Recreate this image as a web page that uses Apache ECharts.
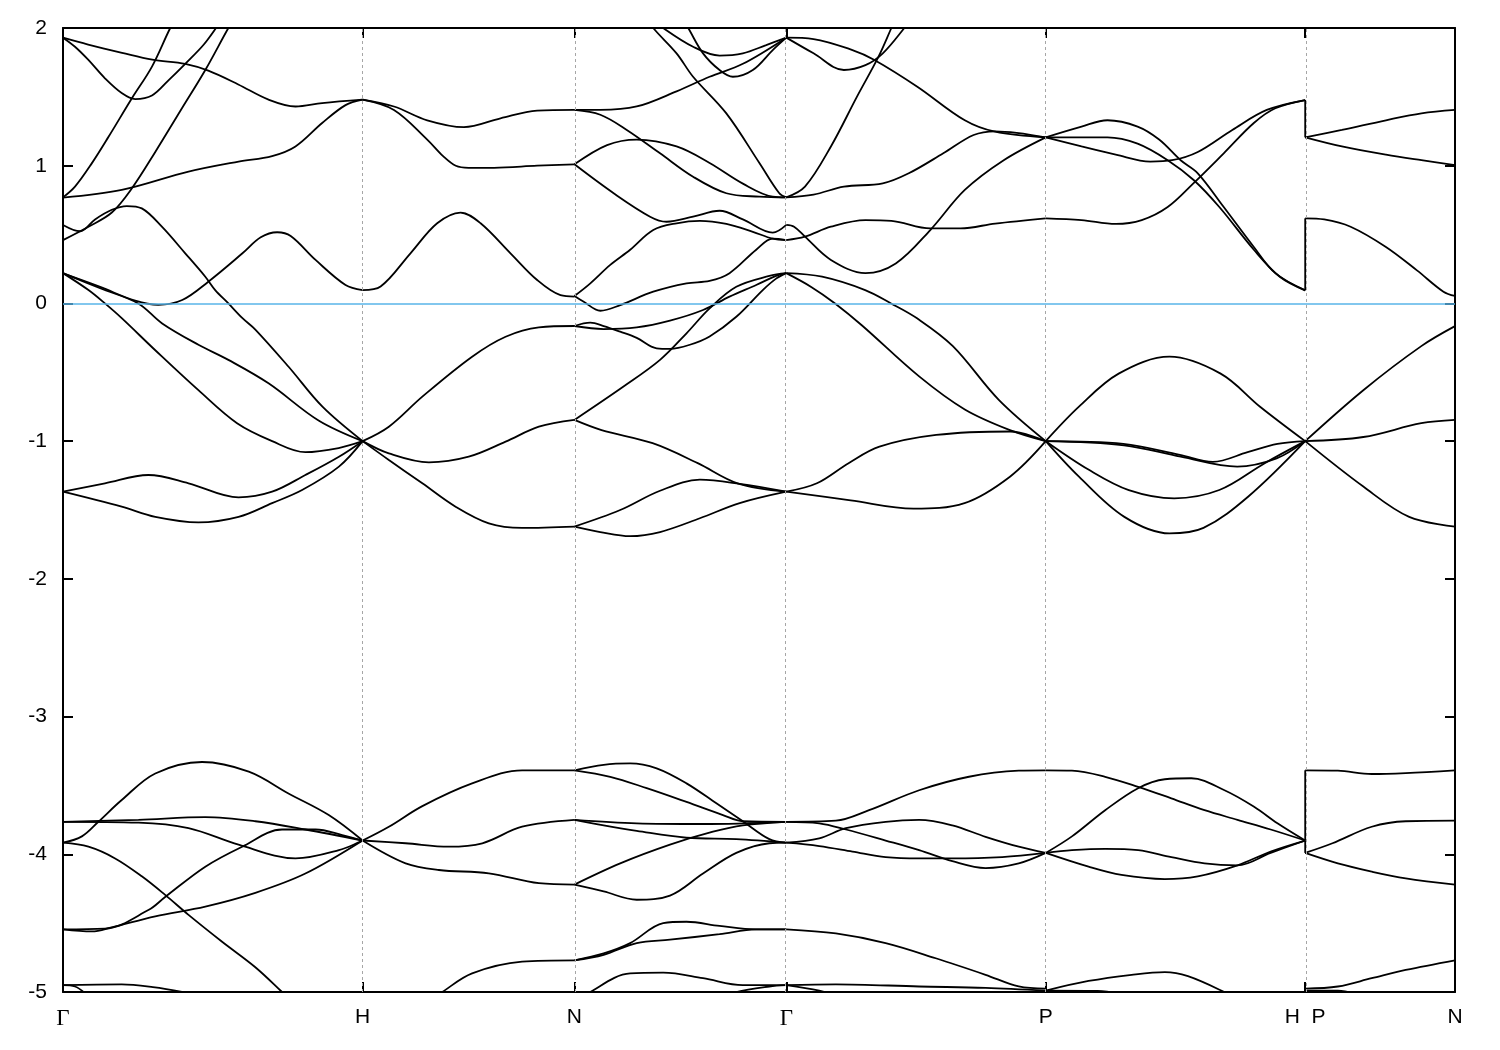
<!DOCTYPE html>
<html><head><meta charset="utf-8">
<script src="https://cdn.jsdelivr.net/npm/echarts@6/dist/echarts.min.js"></script>
<style>html,body{margin:0;padding:0;background:#fff}#c{width:1500px;height:1050px}</style>
</head><body><div id="c"></div>
<script>
// path segment lengths (2pi/a units): G-H, H-N, N-G, G-P, P-H, P-N
const kSegLen = [1, 0.7071, 0.7071, 0.8660, 0.8660, 0.5];
const kLabels = ['Γ', 'H', 'N', 'Γ', 'P', 'H  P', 'N'];
const yTicks = [-5, -4, -3, -2, -1, 0, 1, 2];

// each band: [fraction along segment, energy (eV)]
const bandsGH = [
 [[0,1.93],[0.084,1.88],[0.197,1.82],[0.298,1.77],[0.408,1.74],[0.485,1.69],[0.585,1.59],[0.686,1.48],[0.776,1.43],[0.865,1.455],[1,1.48]],
 [[0,1.93],[0.04,1.864],[0.084,1.77],[0.14,1.635],[0.197,1.526],[0.241,1.484],[0.297,1.51],[0.352,1.62],[0.408,1.74],[0.47,1.88],[0.52,2.03]],
 [[0,0.77],[0.04,0.848],[0.096,1.017],[0.152,1.21],[0.23,1.49],[0.297,1.72],[0.358,2.0],[0.378,2.07]],
 [[0,0.46],[0.085,0.557],[0.163,0.66],[0.23,0.836],[0.308,1.10],[0.397,1.417],[0.475,1.695],[0.552,2.0],[0.575,2.08]],
 [[0,0.57],[0.057,0.524],[0.107,0.61],[0.163,0.68],[0.213,0.707],[0.263,0.69],[0.33,0.557],[0.408,0.364],[0.475,0.194],[0.508,0.097],[0.552,0.0],[0.599,-0.107],[0.642,-0.19],[0.753,-0.46],[0.866,-0.75],[1,-1.0]],
 [[0,0.218],[0.124,0.12],[0.241,0.02],[0.318,-0.01],[0.398,0.025],[0.485,0.158],[0.599,0.364],[0.66,0.48],[0.715,0.517],[0.76,0.49],[0.843,0.316],[0.943,0.134],[1,0.097]],
 [[0,0.22],[0.085,0.097],[0.14,0.0],[0.196,-0.107],[0.308,-0.34],[0.452,-0.63],[0.581,-0.87],[0.698,-1.0],[0.809,-1.08],[0.92,-1.05],[1,-1.0]],
 [[0,0.22],[0.124,0.11],[0.251,0.0],[0.331,-0.145],[0.452,-0.30],[0.552,-0.41],[0.686,-0.58],[0.853,-0.85],[1,-1.0]],
 [[0,0.768],[0.196,0.824],[0.419,0.957],[0.586,1.03],[0.698,1.07],[0.776,1.14],[0.865,1.31],[0.943,1.44],[1,1.48]],
 [[0,-1.367],[0.14,-1.306],[0.285,-1.246],[0.419,-1.306],[0.586,-1.408],[0.698,-1.367],[0.809,-1.246],[0.921,-1.113],[1,-1.0]],
 [[0,-1.367],[0.196,-1.476],[0.308,-1.55],[0.452,-1.59],[0.586,-1.55],[0.698,-1.45],[0.798,-1.355],[0.921,-1.185],[1,-1.0]],
 [[0,-3.916],[0.063,-3.87],[0.118,-3.764],[0.196,-3.606],[0.308,-3.413],[0.464,-3.33],[0.62,-3.40],[0.754,-3.56],[0.887,-3.715],[1,-3.9]],
 [[0,-3.764],[0.252,-3.75],[0.475,-3.73],[0.642,-3.76],[0.809,-3.82],[1,-3.9]],
 [[0,-3.764],[0.252,-3.77],[0.419,-3.81],[0.586,-3.93],[0.776,-4.03],[0.921,-3.97],[1,-3.9]],
 [[0,-4.545],[0.14,-4.54],[0.285,-4.405],[0.341,-4.31],[0.475,-4.09],[0.598,-3.945],[0.731,-3.82],[0.843,-3.82],[0.932,-3.86],[1,-3.9]],
 [[0,-4.545],[0.096,-4.56],[0.163,-4.53],[0.308,-4.45],[0.475,-4.38],[0.642,-4.28],[0.809,-4.14],[1,-3.9]],
 [[0,-3.916],[0.085,-3.945],[0.174,-4.03],[0.263,-4.16],[0.341,-4.295],[0.419,-4.44],[0.531,-4.635],[0.642,-4.82],[0.731,-5.0],[0.759,-5.06]],
 [[0,-4.95],[0.196,-4.945],[0.30,-4.965],[0.397,-5.0],[0.43,-5.02]],
 [[0,-4.95],[0.04,-4.96],[0.08,-5.02]]
];

const bandsHN = [
 [[0,1.48],[0.148,1.43],[0.305,1.33],[0.478,1.28],[0.651,1.344],[0.824,1.40],[1,1.405]],
 [[0,1.48],[0.148,1.405],[0.305,1.19],[0.38,1.07],[0.44,1.0],[0.5,0.985],[0.62,0.985],[0.824,1.0],[1,1.01]],
 [[0,0.097],[0.085,0.123],[0.226,0.364],[0.352,0.582],[0.462,0.66],[0.557,0.582],[0.698,0.364],[0.824,0.17],[0.934,0.06],[1,0.05]],
 [[0,-1.0],[0.124,-0.895],[0.282,-0.677],[0.517,-0.387],[0.675,-0.242],[0.832,-0.174],[1,-0.164]],
 [[0,-1.0],[0.124,-1.089],[0.313,-1.154],[0.501,-1.113],[0.675,-1.004],[0.832,-0.895],[1,-0.846]],
 [[0,-1.0],[0.124,-1.137],[0.282,-1.306],[0.439,-1.476],[0.596,-1.597],[0.753,-1.63],[1,-1.62]],
 [[0,-3.9],[0.124,-3.80],[0.282,-3.65],[0.517,-3.485],[0.753,-3.39],[1,-3.39]],
 [[0,-3.9],[0.203,-3.92],[0.407,-3.945],[0.565,-3.92],[0.753,-3.80],[1,-3.75]],
 [[0,-3.9],[0.203,-4.066],[0.36,-4.114],[0.596,-4.138],[0.832,-4.21],[1,-4.22]],
 [[0.32,-5.06],[0.376,-5.0],[0.517,-4.865],[0.753,-4.78],[1,-4.77]]
];

const bandsNG = [
 [[0,1.405],[0.122,1.405],[0.294,1.43],[0.482,1.54],[0.638,1.646],[0.795,1.74],[1,1.93]],
 [[0,1.405],[0.122,1.37],[0.247,1.26],[0.404,1.09],[0.56,0.92],[0.717,0.80],[0.873,0.775],[1,0.77]],
 [[0,1.01],[0.154,1.15],[0.294,1.19],[0.482,1.14],[0.638,1.02],[0.795,0.87],[0.936,0.775],[1,0.77]],
 [[0,1.01],[0.185,0.80],[0.357,0.63],[0.435,0.593],[0.56,0.63],[0.685,0.673],[0.795,0.61],[0.936,0.514],[1,0.57]],
 [[0,0.054],[0.075,0.146],[0.169,0.28],[0.263,0.39],[0.372,0.533],[0.482,0.582],[0.592,0.60],[0.717,0.577],[0.842,0.52],[0.936,0.47],[1,0.46]],
 [[0,0.054],[0.044,0.012],[0.122,-0.053],[0.216,-0.012],[0.372,0.085],[0.529,0.146],[0.638,0.163],[0.732,0.22],[0.858,0.39],[0.936,0.47],[1,0.46]],
 [[0.357,2.05],[0.372,2.0],[0.482,1.816],[0.56,1.646],[0.717,1.38],[0.873,1.02],[0.967,0.80],[1,0.77]],
 [[0.404,2.03],[0.419,2.0],[0.56,1.864],[0.685,1.80],[0.795,1.816],[0.905,1.876],[1,1.93]],
 [[0.516,2.05],[0.537,2.0],[0.607,1.816],[0.685,1.695],[0.748,1.646],[0.842,1.695],[0.936,1.84],[1,1.93]],
 [[0,-0.164],[0.075,-0.14],[0.138,-0.164],[0.216,-0.205],[0.294,-0.25],[0.388,-0.326],[0.451,-0.33],[0.545,-0.30],[0.638,-0.24],[0.764,-0.097],[0.889,0.097],[0.952,0.18],[1,0.22]],
 [[0,-0.164],[0.138,-0.186],[0.294,-0.174],[0.451,-0.125],[0.607,-0.048],[0.732,0.049],[0.858,0.134],[0.952,0.2],[1,0.22]],
 [[0,-0.846],[0.235,-0.60],[0.404,-0.41],[0.529,-0.217],[0.638,-0.036],[0.764,0.121],[0.92,0.2],[1,0.22]],
 [[0,-0.846],[0.128,-0.92],[0.369,-1.015],[0.582,-1.16],[0.77,-1.306],[1,-1.367]],
 [[0,-1.62],[0.122,-1.66],[0.263,-1.69],[0.404,-1.66],[0.592,-1.56],[0.78,-1.45],[1,-1.367]],
 [[0,-1.62],[0.216,-1.50],[0.404,-1.36],[0.592,-1.28],[0.78,-1.31],[1,-1.367]],
 [[0,-3.39],[0.138,-3.35],[0.263,-3.34],[0.388,-3.376],[0.529,-3.485],[0.67,-3.63],[0.795,-3.76],[0.92,-3.89],[1,-3.916]],
 [[0,-3.39],[0.169,-3.437],[0.341,-3.52],[0.529,-3.62],[0.701,-3.715],[0.795,-3.76],[1,-3.764]],
 [[0,-3.75],[0.294,-3.775],[0.607,-3.78],[1,-3.764]],
 [[0,-3.75],[0.138,-3.79],[0.294,-3.83],[0.529,-3.88],[0.764,-3.89],[1,-3.916]],
 [[0,-4.22],[0.216,-4.066],[0.451,-3.93],[0.654,-3.836],[0.795,-3.79],[1,-3.764]],
 [[0,-4.22],[0.138,-4.27],[0.294,-4.33],[0.451,-4.30],[0.607,-4.14],[0.764,-3.99],[0.92,-3.92],[1,-3.916]],
 [[0,-4.77],[0.138,-4.72],[0.263,-4.645],[0.419,-4.50],[0.529,-4.49],[0.685,-4.52],[0.858,-4.545],[1,-4.545]],
 [[0,-4.77],[0.138,-4.73],[0.294,-4.645],[0.451,-4.62],[0.685,-4.58],[0.858,-4.545],[1,-4.545]],
 [[0.052,-5.05],[0.075,-5.0],[0.263,-4.865],[0.419,-4.86],[0.607,-4.90],[0.795,-4.95],[1,-4.95]],
 [[0.732,-5.03],[0.764,-5.0],[0.92,-4.96],[1,-4.95]]
];

const bandsGP = [
 [[0,1.93],[0.105,1.92],[0.255,1.84],[0.338,1.77],[0.505,1.574],[0.688,1.33],[0.805,1.247],[1,1.206]],
 [[0,1.93],[0.105,1.816],[0.222,1.695],[0.305,1.73],[0.372,1.816],[0.455,2.0],[0.473,2.05]],
 [[0,0.77],[0.072,0.848],[0.172,1.14],[0.272,1.50],[0.355,1.79],[0.405,2.0],[0.419,2.06]],
 [[0,0.77],[0.105,0.79],[0.222,0.848],[0.372,0.872],[0.472,0.945],[0.605,1.09],[0.722,1.223],[0.805,1.25],[1,1.206]],
 [[0,0.57],[0.03,0.557],[0.072,0.485],[0.172,0.316],[0.305,0.22],[0.422,0.29],[0.555,0.533],[0.688,0.824],[0.838,1.04],[1,1.206]],
 [[0,0.46],[0.072,0.485],[0.172,0.557],[0.305,0.605],[0.405,0.60],[0.555,0.545],[0.672,0.545],[0.805,0.58],[1,0.618]],
 [[0,0.22],[0.096,0.12],[0.188,0.0],[0.292,-0.16],[0.512,-0.53],[0.688,-0.77],[0.862,-0.92],[1,-1.0]],
 [[0,0.22],[0.138,0.194],[0.304,0.097],[0.404,0.0],[0.504,-0.108],[0.642,-0.31],[0.819,-0.70],[1,-1.0]],
 [[0,-1.367],[0.248,-1.43],[0.49,-1.49],[0.687,-1.45],[0.862,-1.258],[1,-1.0]],
 [[0,-1.367],[0.118,-1.306],[0.24,-1.16],[0.359,-1.04],[0.578,-0.955],[0.863,-0.93],[1,-1.0]],
 [[0,-3.764],[0.191,-3.756],[0.319,-3.68],[0.512,-3.535],[0.704,-3.437],[0.896,-3.393],[1,-3.39]],
 [[0,-3.764],[0.127,-3.775],[0.23,-3.82],[0.383,-3.90],[0.512,-3.97],[0.64,-4.05],[0.768,-4.10],[0.896,-4.066],[1,-3.99]],
 [[0,-3.916],[0.127,-3.884],[0.23,-3.81],[0.383,-3.764],[0.512,-3.75],[0.64,-3.79],[0.768,-3.873],[0.896,-3.945],[1,-3.99]],
 [[0,-3.916],[0.127,-3.94],[0.255,-3.98],[0.383,-4.02],[0.512,-4.03],[0.64,-4.03],[0.832,-4.02],[1,-3.99]],
 [[0,-4.545],[0.191,-4.575],[0.383,-4.645],[0.576,-4.755],[0.768,-4.875],[0.896,-4.96],[1,-4.975]],
 [[0,-4.95],[0.191,-4.944],[0.512,-4.96],[0.768,-4.97],[1,-4.99]],
 [[0,-4.95],[0.127,-4.99],[0.178,-5.02]]
];

const bandsPH = [
 [[0,1.206],[0.138,1.284],[0.238,1.33],[0.354,1.284],[0.437,1.19],[0.52,1.04],[0.586,0.945],[0.686,0.70],[0.802,0.41],[0.885,0.22],[1,0.095]],
 [[0,1.206],[0.238,1.206],[0.354,1.16],[0.47,1.04],[0.57,0.896],[0.669,0.70],[0.802,0.39],[0.902,0.194],[1,0.095]],
 [[0,1.206],[0.138,1.14],[0.27,1.08],[0.403,1.03],[0.487,1.04],[0.586,1.10],[0.719,1.26],[0.852,1.405],[1,1.477]],
 [[0,0.618],[0.138,0.605],[0.27,0.577],[0.37,0.605],[0.47,0.70],[0.569,0.872],[0.686,1.09],[0.802,1.31],[0.885,1.417],[1,1.477]],
 [[0,-1.0],[0.128,-0.75],[0.281,-0.51],[0.477,-0.387],[0.674,-0.51],[0.826,-0.75],[1,-1.0]],
 [[0,-1.0],[0.302,-1.03],[0.52,-1.113],[0.738,-1.185],[0.89,-1.125],[1,-1.0]],
 [[0,-1.0],[0.299,-1.02],[0.517,-1.10],[0.644,-1.15],[0.778,-1.08],[0.893,-1.02],[1,-1.0]],
 [[0,-1.0],[0.168,-1.21],[0.32,-1.355],[0.495,-1.415],[0.669,-1.355],[0.844,-1.16],[1,-1.0]],
 [[0,-1.0],[0.128,-1.258],[0.303,-1.55],[0.477,-1.67],[0.608,-1.63],[0.782,-1.40],[1,-1.0]],
 [[0,-3.39],[0.101,-3.393],[0.229,-3.437],[0.356,-3.51],[0.484,-3.594],[0.612,-3.68],[0.739,-3.75],[0.867,-3.82],[1,-3.9]],
 [[0,-3.99],[0.101,-3.87],[0.229,-3.68],[0.356,-3.52],[0.459,-3.455],[0.561,-3.448],[0.689,-3.535],[0.803,-3.655],[0.893,-3.775],[1,-3.9]],
 [[0,-3.99],[0.101,-3.97],[0.229,-3.96],[0.356,-3.97],[0.484,-4.02],[0.612,-4.066],[0.739,-4.08],[0.867,-3.99],[1,-3.9]],
 [[0,-3.99],[0.165,-4.09],[0.292,-4.15],[0.459,-4.18],[0.586,-4.16],[0.739,-4.08],[0.867,-3.98],[1,-3.9]],
 [[0,-4.99],[0.165,-4.92],[0.331,-4.875],[0.459,-4.855],[0.548,-4.885],[0.688,-5.0],[0.72,-5.04]],
 [[0,-4.99],[0.2,-4.992],[0.3,-5.02]]
];

const bandsPN = [
 [[0,1.206],[0.245,1.26],[0.539,1.33],[0.776,1.38],[1,1.405]],
 [[0,1.206],[0.245,1.14],[0.539,1.08],[0.776,1.04],[1,1.005]],
 [[0,0.618],[0.127,0.61],[0.303,0.557],[0.539,0.41],[0.746,0.24],[0.923,0.085],[1,0.054]],
 [[0,-1.0],[0.388,-0.63],[0.775,-0.31],[1,-0.165]],
 [[0,-1.0],[0.388,-0.97],[0.775,-0.87],[1,-0.846]],
 [[0,-1.0],[0.388,-1.33],[0.694,-1.55],[1,-1.62]],
 [[0,-3.39],[0.218,-3.393],[0.444,-3.417],[0.671,-3.41],[1,-3.39]],
 [[0,-3.99],[0.182,-3.92],[0.444,-3.80],[0.671,-3.76],[1,-3.756]],
 [[0,-3.99],[0.218,-4.066],[0.444,-4.126],[0.671,-4.175],[1,-4.22]],
 [[0,-4.975],[0.218,-4.96],[0.444,-4.90],[0.671,-4.84],[1,-4.77]],
 [[0,-4.99],[0.218,-4.99],[0.35,-5.02]]
];

// vertical connections at the H|P jump: [energy at H, energy at P]
const jumpsHP = [[1.477, 1.206], [0.095, 0.618], [-3.9, -3.39], [-3.9, -3.99]];

const kStart = [0];
kSegLen.forEach(function (l, i) { kStart.push(kStart[i] + l); });
const kTotal = kStart[kStart.length - 1];
const segBands = [bandsGH, bandsHN, bandsNG, bandsGP, bandsPH, bandsPN];

const series = [];
const bandStyle = { color: '#000', width: 1.8 };
segBands.forEach(function (bands, s) {
  bands.forEach(function (b) {
    series.push({
      type: 'line', smooth: 0.35, symbol: 'none', silent: true, z: 4,
      lineStyle: bandStyle,
      data: b.map(function (p) { return [kStart[s] + p[0] * kSegLen[s], p[1]]; })
    });
  });
});
jumpsHP.forEach(function (j) {
  series.push({
    type: 'line', symbol: 'none', silent: true, z: 4, lineStyle: bandStyle,
    data: [[kStart[5], j[0]], [kStart[5], j[1]]]
  });
});
// guide lines: dashed verticals at the symmetry points and the Fermi level
series.push({
  type: 'line', symbol: 'none', silent: true, z: 2, data: [],
  markLine: {
    silent: true, symbol: ['none', 'none'], label: { show: false }, animation: false,
    emphasis: { disabled: true },
    data: kStart.slice(1, -1).map(function (k) {
      return { xAxis: k, lineStyle: { type: [3, 3], color: '#a6a6a6', width: 1, opacity: 1 } };
    }).concat([{ yAxis: 0, lineStyle: { type: 'solid', color: '#58b5e8', width: 1.6, opacity: 1 } }])
  }
});

function kLabel(v) {
  for (let i = 0; i < kStart.length; i++) {
    if (Math.abs(kStart[i] - v) < 1e-6) {
      return kLabels[i] === 'Γ' ? '{g|Γ}' : kLabels[i];
    }
  }
  return '';
}

const axisLineStyle = { color: '#000', width: 2 };
const chart = echarts.init(document.getElementById('c'), null, { renderer: 'canvas' });
chart.setOption({
  animation: false,
  backgroundColor: '#fff',
  grid: { left: 63, right: 45, top: 28, bottom: 58, containLabel: false },
  xAxis: [{
    type: 'value', min: 0, max: kTotal, position: 'bottom',
    axisLine: { show: true, onZero: false, lineStyle: axisLineStyle },
    axisTick: { show: true, inside: true, length: 10, customValues: kStart, lineStyle: axisLineStyle },
    axisLabel: {
      show: true, customValues: kStart, formatter: kLabel, margin: 15, hideOverlap: false,
      fontSize: 21, color: '#000', fontFamily: 'Liberation Sans',
      rich: { g: { fontFamily: 'Liberation Serif', fontSize: 23, color: '#000' } }
    },
    splitLine: { show: false }
  }, {
    type: 'value', min: 0, max: kTotal, position: 'top',
    axisLine: { show: true, onZero: false, lineStyle: axisLineStyle },
    axisTick: { show: true, inside: true, length: 10, customValues: kStart, lineStyle: axisLineStyle },
    axisLabel: { show: false }, splitLine: { show: false }
  }],
  yAxis: [{
    type: 'value', min: yTicks[0], max: yTicks[yTicks.length - 1], interval: 1, position: 'left',
    axisLine: { show: true, onZero: false, lineStyle: axisLineStyle },
    axisTick: { show: true, inside: true, length: 10, lineStyle: axisLineStyle },
    axisLabel: { fontSize: 21, color: '#000', margin: 16, fontFamily: 'Liberation Sans' },
    splitLine: { show: false }
  }, {
    type: 'value', min: yTicks[0], max: yTicks[yTicks.length - 1], interval: 1, position: 'right',
    axisLine: { show: true, onZero: false, lineStyle: axisLineStyle },
    axisTick: { show: true, inside: true, length: 10, lineStyle: axisLineStyle },
    axisLabel: { show: false }, splitLine: { show: false }
  }],
  series: series
});
</script></body></html>
